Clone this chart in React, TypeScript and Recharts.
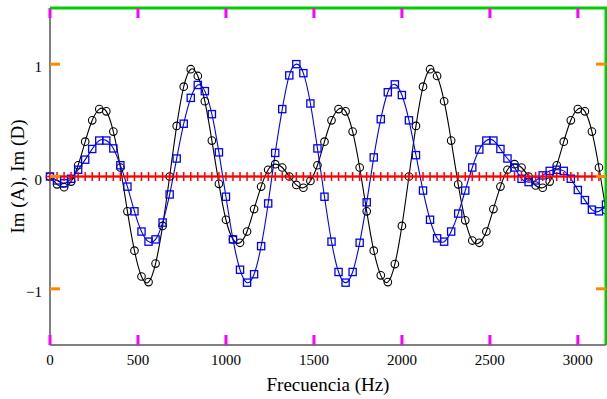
import React from "react";
import { LineChart, Line, XAxis, YAxis } from "recharts";

const freqs = [
  0, 40, 80, 120, 160, 200, 240, 280, 320, 360, 400, 440, 480, 520, 560, 600,
  640, 680, 720, 760, 800, 840, 880, 920, 960, 1000, 1040, 1080, 1120, 1160,
  1200, 1240, 1280, 1320, 1360, 1400, 1440, 1480, 1520, 1560, 1600, 1640, 1680,
  1720, 1760, 1800, 1840, 1880, 1920, 1960, 2000, 2040, 2080, 2120, 2160, 2200,
  2240, 2280, 2320, 2360, 2400, 2440, 2480, 2520, 2560, 2600, 2640, 2680, 2720,
  2760, 2800, 2840, 2880, 2920, 2960, 3000, 3040, 3080, 3120, 3160,
];

const imA = [
  0, -0.07, -0.095, -0.045, 0.1, 0.31, 0.5, 0.6, 0.58, 0.4, 0.08, -0.31, -0.66,
  -0.89, -0.94, -0.775, -0.44, 0.0, 0.45, 0.8, 0.955, 0.895, 0.67, 0.32, -0.065,
  -0.385, -0.56, -0.59, -0.49, -0.29, -0.09, 0.06, 0.11, 0.08, 0.0, -0.075, -0.1,
  -0.04, 0.1, 0.31, 0.5, 0.6, 0.58, 0.4, 0.08, -0.31, -0.66, -0.88, -0.94, -0.78,
  -0.44, 0.0, 0.45, 0.8, 0.955, 0.895, 0.67, 0.32, -0.07, -0.39, -0.57, -0.59,
  -0.49, -0.29, -0.09, 0.06, 0.11, 0.08, 0.0, -0.08, -0.1, -0.045, 0.1, 0.31, 0.5,
  0.6, 0.58, 0.4, 0.08, -0.3,
];

const imD = [
  0, -0.035, -0.06, -0.02, 0.06, 0.15, 0.245, 0.32, 0.32, 0.25, 0.1, -0.09, -0.31,
  -0.49, -0.58, -0.56, -0.41, -0.16, 0.16, 0.47, 0.7, 0.815, 0.76, 0.555, 0.215,
  -0.18, -0.56, -0.83, -0.945, -0.87, -0.62, -0.24, 0.21, 0.6, 0.9, 1.0, 0.92,
  0.65, 0.25, -0.18, -0.58, -0.85, -0.945, -0.85, -0.59, -0.23, 0.17, 0.51, 0.75,
  0.82, 0.725, 0.5, 0.19, -0.125, -0.385, -0.55, -0.58, -0.49, -0.33, -0.125,
  0.08, 0.24, 0.32, 0.32, 0.245, 0.16, 0.08, -0.02, -0.05, -0.035, 0.01, 0.05,
  0.06, 0.05, -0.02, -0.12, -0.21, -0.295, -0.31, -0.25,
];

const imRef = [
  0, 0, 0, 0, 0, 0, 0, 0, 0, 0, 0, 0, 0, 0, 0, 0, 0, 0, 0, 0, 0, 0, 0, 0, 0, 0,
  0, 0, 0, 0, 0, 0, 0, 0, 0, 0, 0, 0, 0, 0, 0, 0, 0, 0, 0, 0, 0, 0, 0, 0, 0, 0,
  0, 0, 0, 0, 0, 0, 0, 0, 0, 0, 0, 0, 0, 0, 0, 0, 0, 0, 0, 0, 0, 0, 0, 0, 0, 0,
  0, 0,
];

const xTicks = [0, 500, 1000, 1500, 2000, 2500, 3000];
const yTicks = [-1, 0, 1];

const data = freqs.map((f, i) => ({ f, a: imA[i], d: imD[i], r: imRef[i] }));

const CHART_W = 607;
const CHART_H = 399;
const MARGIN = { top: 8, right: 1, left: 0, bottom: 0 };
const Y_AXIS_W = 50;
const X_AXIS_H = 54;
const PLOT_W = CHART_W - MARGIN.left - MARGIN.right - Y_AXIS_W;
const PLOT_H = CHART_H - MARGIN.top - MARGIN.bottom - X_AXIS_H;
const TICK_LEN = 10;

const FONT = "Liberation Serif, Times New Roman, serif";

const fmt = (v: number) => (v < 0 ? "\u2212" + Math.abs(v) : String(v));

const BottomTick = (props: any) => {
  const { x, y, payload, index } = props;
  const top = y - PLOT_H;
  return (
    <g>
      <line x1={x} y1={y} x2={x} y2={y - TICK_LEN} stroke="#f0f" strokeWidth={3} />
      <line x1={x} y1={top} x2={x} y2={top + TICK_LEN} stroke="#f0f" strokeWidth={3} />
      {index === 0 && (
        <path d={`M${x},${top}H${x + PLOT_W}V${y}`} stroke="#0c0" strokeWidth={3} fill="none" />
      )}
      <text x={x} y={y + 20} textAnchor="middle" fontSize={15} fontFamily={FONT} fill="#000">
        {fmt(payload.value)}
      </text>
    </g>
  );
};

const LeftTick = (props: any) => {
  const { x, y, payload } = props;
  const right = x + PLOT_W;
  return (
    <g>
      <line x1={x} y1={y} x2={x + TICK_LEN} y2={y} stroke="#f80" strokeWidth={3} />
      <line x1={right} y1={y} x2={right - TICK_LEN} y2={y} stroke="#f80" strokeWidth={3} />
      <text x={x - 8} y={y + 3} textAnchor="end" dominantBaseline="central" fontSize={15} fontFamily={FONT} fill="#000">
        {fmt(payload.value)}
      </text>
    </g>
  );
};

const SquareDot = (props: any) => {
  const { cx, cy, index } = props;
  if (cx == null || cy == null) return <g key={`s${index}`} />;
  return (
    <rect key={`s${index}`} x={cx - 3.6} y={cy - 3.6} width={7.2} height={7.2} fill="none" stroke="#0000ff" strokeWidth={1.3} />
  );
};

const PlusDot = (props: any) => {
  const { cx, cy, index } = props;
  if (cx == null || cy == null) return <g key={`p${index}`} />;
  return (
    <path key={`p${index}`} d={`M${cx - 4},${cy}H${cx + 4}M${cx},${cy - 4.5}V${cy + 4.5}`} stroke="#ff0000" strokeWidth={1.5} fill="none" />
  );
};

export default function App() {
  return (
    <div style={{ position: "absolute", left: 0, top: 0 }}>
      <LineChart width={CHART_W} height={CHART_H} data={data} margin={MARGIN}>
        <XAxis
          dataKey="f"
          type="number"
          domain={[0, 3160]}
          ticks={xTicks}
          height={X_AXIS_H}
          tickSize={0}
          tickMargin={0}
          tickLine={false}
          stroke="#000"
          tick={<BottomTick />}
          interval={0}
          label={{ value: "Frecuencia (Hz)", position: "insideBottom", offset: 8, style: { fontFamily: FONT, fontSize: 19, fill: "#000" } }}
        />
        <YAxis
          type="number"
          domain={[-1.5, 1.5]}
          ticks={yTicks}
          width={Y_AXIS_W}
          tickSize={0}
          tickMargin={0}
          tickLine={false}
          stroke="#000"
          tick={<LeftTick />}
          interval={0}
          label={{ value: "Im (A), Im (D)", angle: -90, position: "insideLeft", offset: 17, style: { fontFamily: FONT, fontSize: 19, fill: "#000", textAnchor: "middle" } }}
        />
        <Line dataKey="a" type="natural" stroke="#000" strokeWidth={1.1} dot={{ r: 3.8, stroke: "#000", strokeWidth: 1.1, fill: "none" }} activeDot={false} isAnimationActive={false} />
        <Line dataKey="d" type="natural" stroke="#0000ff" strokeWidth={1.1} dot={<SquareDot />} activeDot={false} isAnimationActive={false} />
        <Line dataKey="r" type="linear" stroke="#ff0000" strokeWidth={2.2} dot={<PlusDot />} activeDot={false} isAnimationActive={false} />
      </LineChart>
    </div>
  );
}
